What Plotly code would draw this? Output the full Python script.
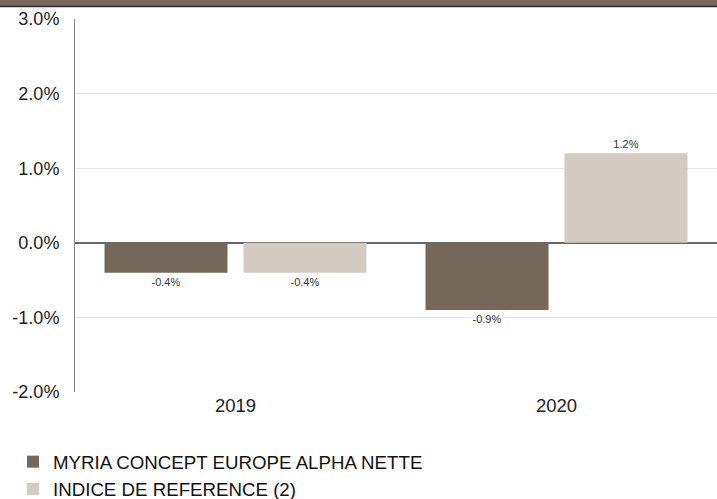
import plotly.graph_objects as go

categories = ["2019", "2020"]
fund_name = "MYRIA CONCEPT EUROPE ALPHA NETTE"
fund_values = [-0.4, -0.9]
index_name = "INDICE DE REFERENCE (2)"
index_values = [-0.4, 1.2]
y_ticks = [-2, -1, 0, 1, 2, 3]
y_tick_labels = ["-2.0%", "-1.0%", "0.0%", "1.0%", "2.0%", "3.0%"]

DARK = "#75685A"
LIGHT = "#D3CBC2"
FONT = "Arial, Liberation Sans, sans-serif"

fig = go.Figure()
for name, vals, col in [(fund_name, fund_values, DARK), (index_name, index_values, LIGHT)]:
    fig.add_trace(go.Bar(
        x=categories, y=vals, name=name, marker=dict(color=col, line=dict(width=0)),
        text=[f"{v:.1f}%" for v in vals], textposition="outside", cliponaxis=False,
        textfont=dict(size=11, color="#333333", family=FONT),
        hoverinfo="skip",
    ))

W, H = 717, 499
ml, mr, mt, mb = 75, 0, 19, 107
ph = H - mt - mb

def py(pix):
    return (H - mb - pix) / ph

fig.update_layout(
    width=W, height=H,
    margin=dict(l=ml, r=mr, t=mt, b=mb, autoexpand=False),
    paper_bgcolor="white", plot_bgcolor="white",
    font=dict(family=FONT, color="#222222"),
    barmode="group", bargap=0.134, bargroupgap=0.115,
    showlegend=True,
    legend=dict(
        orientation="v", x=(13 - ml) / (W - ml - mr), xanchor="left",
        y=py(443), yanchor="top",
        font=dict(size=18.7, color="#111111", family=FONT),
        bgcolor="rgba(0,0,0,0)", traceorder="normal",
    ),
    xaxis=dict(
        type="category", showgrid=False, zeroline=False, showline=False,
        tickfont=dict(size=18.5, color="#222222"), ticks="",
    ),
    yaxis=dict(
        range=[-2, 3], tickvals=y_ticks, ticktext=y_tick_labels,
        showgrid=True, gridcolor="#E8E8E8", gridwidth=1,
        zeroline=True, zerolinecolor="#666666", zerolinewidth=1.5,
        showline=True, linecolor="#888888", linewidth=1,
        tickfont=dict(size=18, color="#222222"), ticks="", ticklabelstandoff=11,
    ),
    shapes=[
        dict(type="rect", xref="paper", yref="paper",
             x0=-ml / (W - ml - mr), x1=1, y0=py(6), y1=py(-2),
             fillcolor=DARK, line=dict(width=0), layer="above"),
        dict(type="line", xref="paper", yref="paper",
             x0=-ml / (W - ml - mr), x1=1, y0=py(6.5), y1=py(6.5),
             line=dict(color="#2a2a2a", width=1.5), layer="above"),
    ],
)

fig.write_html(
    "out.html",
    config={"displayModeBar": False},
    post_script="document.body.style.margin='0';document.body.style.overflow='hidden';",
)
